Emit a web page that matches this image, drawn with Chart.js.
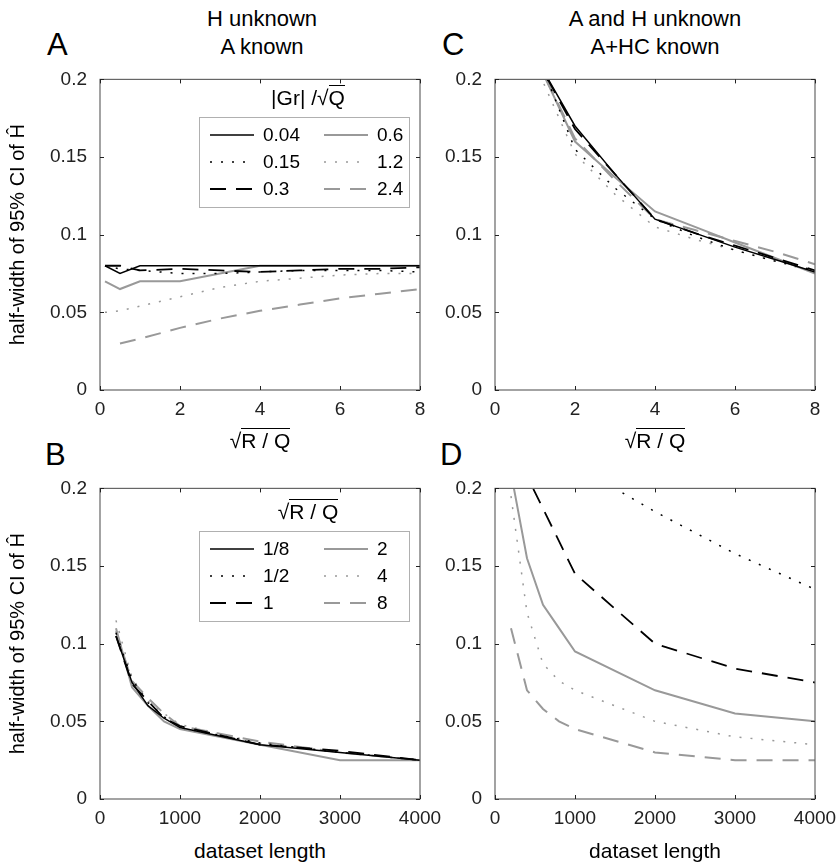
<!DOCTYPE html>
<html>
<head>
<meta charset="utf-8">
<script src="https://cdn.jsdelivr.net/npm/chart.js@4.4.1/dist/chart.umd.min.js"></script>
<style>
  body { margin: 0; background: #fff; }
  #page { position: relative; width: 837px; height: 867px; background: #fff; overflow: hidden;
          font-family: 'Liberation Sans', Arial, sans-serif; color: #000; }
  canvas { position: absolute; }
  .head { position: absolute; width: 320px; text-align: center; font-size: 22px; line-height: 28px; }
  .letter { position: absolute; font-size: 31px; line-height: 31px; }
  .xtitle { position: absolute; width: 320px; text-align: center; font-size: 21px; line-height: 24px; }
  .ov { border-top: 1.5px solid #000; }
  .lgtitle { position: absolute; width: 210px; text-align: center; font-size: 21px; line-height: 24px; }
  .lgbox { position: absolute; width: 209px; height: 89px; border: 1px solid #b0b0b0; background: #fff; }
  .lgitem { position: absolute; font-size: 19px; line-height: 22px; white-space: nowrap; }
  .lgitem svg { position: absolute; left: 0; top: 8px; }
  .lgitem span { position: absolute; left: 53px; top: 0; }
</style>
</head>
<body>
<div id="page">
  <div class="letter" style="left:47px;top:29px">A</div>
  <div class="letter" style="left:442px;top:29px">C</div>
  <div class="letter" style="left:45px;top:439px">B</div>
  <div class="letter" style="left:440px;top:439px">D</div>

  <div class="head" style="left:102px;top:5px">H unknown<br>A known</div>
  <div class="head" style="left:495px;top:5px">A and H unknown<br>A+HC known</div>

  <canvas id="chartA" width="445" height="367" style="left:0;top:63px"></canvas>
  <canvas id="chartC" width="445" height="367" style="left:395px;top:63px"></canvas>
  <canvas id="chartB" width="445" height="367" style="left:0;top:472px"></canvas>
  <canvas id="chartD" width="445" height="367" style="left:395px;top:472px"></canvas>

  <div class="xtitle" style="left:100px;top:429px">√<span class="ov">R / Q</span></div>
  <div class="xtitle" style="left:495px;top:429px">√<span class="ov">R / Q</span></div>
  <div class="xtitle" style="left:100px;top:839px">dataset length</div>
  <div class="xtitle" style="left:495px;top:839px">dataset length</div>

  <div class="lgtitle" style="left:203px;top:86px">|Gr| /√<span class="ov">Q</span></div>
  <div class="lgbox" id="legendA" style="left:199px;top:117px"></div>
  <div class="lgtitle" style="left:203px;top:500px">√<span class="ov">R / Q</span></div>
  <div class="lgbox" id="legendB" style="left:199px;top:531px"></div>
</div>

<script>
// x positions and tick labels
const xRQ = [0.125, 0.5, 1, 2, 3, 4, 5, 6, 7, 8];
const xLen = [200, 400, 600, 800, 1000, 2000, 3000, 4000];
const xTicksRQ = [0, 2, 4, 6, 8];
const xTicksLen = [0, 1000, 2000, 3000, 4000];
const yTicks = [0, 0.05, 0.1, 0.15, 0.2];

// legend labels
const grLabels = ['0.04', '0.15', '0.3', '0.6', '1.2', '2.4'];
const rqLabels = ['1/8', '1/2', '1', '2', '4', '8'];

// A: H unknown, A known  (vs sqrt(R/Q))
const aGr004 = [0.080, 0.075, 0.080, 0.080, 0.080, 0.080, 0.080, 0.080, 0.080, 0.080];
const aGr015 = [0.080, 0.078, 0.077, 0.075, 0.075, 0.076, 0.077, 0.077, 0.077, 0.076];
const aGr03  = [0.080, 0.080, 0.077, 0.078, 0.077, 0.076, 0.077, 0.078, 0.078, 0.079];
const aGr06  = [0.070, 0.065, 0.070, 0.070, 0.075, 0.080, 0.080, 0.080, 0.080, 0.080];
const aGr12  = [0.050, 0.051, 0.054, 0.060, 0.066, 0.070, 0.072, 0.074, 0.075, 0.075];
const aGr24  = [null, 0.030, 0.033, 0.040, 0.046, 0.051, 0.055, 0.059, 0.062, 0.065];

// C: A and H unknown, A+HC known
const cGr004 = [null, null, 0.215, 0.170, 0.139, 0.110, 0.101, 0.092, 0.084, 0.076];
const cGr015 = [null, null, 0.220, 0.155, 0.130, 0.110, 0.099, 0.090, 0.083, 0.077];
const cGr03  = [null, null, 0.215, 0.168, 0.139, 0.110, 0.101, 0.093, 0.085, 0.077];
const cGr06  = [null, null, 0.215, 0.160, 0.137, 0.115, 0.105, 0.095, 0.085, 0.075];
const cGr12  = [null, null, 0.210, 0.152, 0.126, 0.105, 0.097, 0.090, 0.083, 0.076];
const cGr24  = [null, null, 0.215, 0.162, 0.135, 0.110, 0.103, 0.096, 0.089, 0.081];

// B: H unknown, A known  (vs dataset length)
const bRQ8th  = [0.105, 0.075, 0.060, 0.052, 0.046, 0.035, 0.030, 0.025];
const bRQhalf = [0.107, 0.077, 0.062, 0.053, 0.046, 0.036, 0.030, 0.025];
const bRQ1    = [0.105, 0.074, 0.063, 0.052, 0.047, 0.035, 0.031, 0.025];
const bRQ2    = [0.110, 0.072, 0.060, 0.050, 0.045, 0.035, 0.025, 0.025];
const bRQ4    = [0.115, 0.078, 0.063, 0.055, 0.048, 0.036, 0.030, 0.025];
const bRQ8    = [0.108, 0.076, 0.065, 0.055, 0.047, 0.037, 0.030, 0.025];

// D: A and H unknown (1/8 curve is off the top of the plot)
const dRQ8th  = null;
const dRQhalf = [null, null, null, null, 0.215, 0.185, 0.158, 0.135];
const dRQ1    = [0.230, 0.208, 0.187, 0.166, 0.145, 0.100, 0.084, 0.075];
const dRQ2    = [0.210, 0.155, 0.125, 0.110, 0.095, 0.070, 0.055, 0.050];
const dRQ4    = [0.195, 0.120, 0.087, 0.076, 0.070, 0.050, 0.040, 0.035];
const dRQ8    = [0.110, 0.070, 0.058, 0.050, 0.045, 0.030, 0.025, 0.025];

const GRAY = '#999999';
const DOT = [2, 9];
const DASH = [16, 10];
const styles = [
  { color: '#000', dash: [], width: 1.5 },
  { color: '#000', dash: DOT, width: 1.5 },
  { color: '#000', dash: DASH, width: 1.8 },
  { color: GRAY, dash: [], width: 2 },
  { color: GRAY, dash: DOT, width: 1.5 },
  { color: GRAY, dash: DASH, width: 2 }
];

Chart.defaults.font.family = "'Liberation Sans', Arial, sans-serif";
Chart.defaults.font.size = 19;
Chart.defaults.color = '#222';

// box round the plot area + inward tick marks on all four sides
const framePlugin = {
  id: 'frame',
  afterDraw(chart) {
    const { ctx, chartArea: a, scales: { x, y } } = chart;
    ctx.save();
    ctx.strokeStyle = '#666';
    ctx.lineWidth = 1.2;
    ctx.strokeRect(a.left, a.top, a.right - a.left, a.bottom - a.top);
    ctx.strokeStyle = '#222';
    ctx.lineWidth = 1;
    ctx.beginPath();
    x.ticks.forEach(t => {
      const px = Math.round(x.getPixelForValue(t.value)) + 0.5;
      ctx.moveTo(px, a.bottom); ctx.lineTo(px, a.bottom - 4);
      ctx.moveTo(px, a.top); ctx.lineTo(px, a.top + 4);
    });
    y.ticks.forEach(t => {
      const py = Math.round(y.getPixelForValue(t.value)) + 0.5;
      ctx.moveTo(a.left, py); ctx.lineTo(a.left + 4, py);
      ctx.moveTo(a.right, py); ctx.lineTo(a.right - 4, py);
    });
    ctx.stroke();
    ctx.restore();
  }
};

function makeChart(id, xs, series, labels, xMax, xTicks, yTitle) {
  const datasets = [];
  series.forEach((ys, i) => {
    if (!ys) return;
    datasets.push({
      label: labels[i],
      data: xs.map((x, j) => ({ x: x, y: ys[j] })),
      borderColor: styles[i].color,
      borderDash: styles[i].dash,
      borderWidth: styles[i].width,
      pointRadius: 0,
      fill: false,
      tension: 0
    });
  });
  return new Chart(document.getElementById(id), {
    type: 'line',
    data: { datasets: datasets },
    plugins: [framePlugin],
    options: {
      responsive: false,
      animation: false,
      devicePixelRatio: 1,
      layout: { padding: { top: 15, right: 25, left: 0, bottom: 0 } },
      plugins: { legend: { display: false }, tooltip: { enabled: false } },
      scales: {
        x: {
          type: 'linear', min: 0, max: xMax,
          afterBuildTicks: s => { s.ticks = xTicks.map(v => ({ value: v })); },
          afterFit: s => { s.height = 40; },
          grid: { display: false }, border: { display: false },
          ticks: { padding: 0, maxRotation: 0, autoSkip: false, callback: v => String(v) }
        },
        y: {
          type: 'linear', min: 0, max: 0.2,
          afterBuildTicks: s => { s.ticks = yTicks.map(v => ({ value: v })); },
          afterFit: s => { s.width = 100; },
          grid: { display: false }, border: { display: false },
          ticks: { padding: 5, autoSkip: false, callback: v => String(v) },
          title: { display: yTitle, text: 'half-width of 95% CI of Ĥ', color: '#000',
                   font: { size: 20 }, padding: { top: 6, bottom: 0 } }
        }
      }
    }
  });
}

makeChart('chartA', xRQ, [aGr004, aGr015, aGr03, aGr06, aGr12, aGr24], grLabels, 8, xTicksRQ, true);
makeChart('chartC', xRQ, [cGr004, cGr015, cGr03, cGr06, cGr12, cGr24], grLabels, 8, xTicksRQ, false);
makeChart('chartB', xLen, [bRQ8th, bRQhalf, bRQ1, bRQ2, bRQ4, bRQ8], rqLabels, 4000, xTicksLen, true);
makeChart('chartD', xLen, [dRQ8th, dRQhalf, dRQ1, dRQ2, dRQ4, dRQ8], rqLabels, 4000, xTicksLen, false);

// legends in two columns of three
function buildLegend(id, labels) {
  const box = document.getElementById(id);
  labels.forEach((lab, i) => {
    const st = styles[i];
    const col = Math.floor(i / 3), row = i % 3;
    const item = document.createElement('div');
    item.className = 'lgitem';
    item.style.left = (10 + col * 114) + 'px';
    item.style.top = (6 + row * 27) + 'px';
    item.innerHTML =
      '<svg width="44" height="6"><line x1="0" y1="3" x2="44" y2="3" stroke="' + st.color +
      '" stroke-width="' + st.width + '" stroke-dasharray="' + (st.dash.length ? st.dash.join(' ') : 'none') +
      '"/></svg><span>' + lab + '</span>';
    box.appendChild(item);
  });
}
buildLegend('legendA', grLabels);
buildLegend('legendB', rqLabels);
</script>
</body>
</html>
